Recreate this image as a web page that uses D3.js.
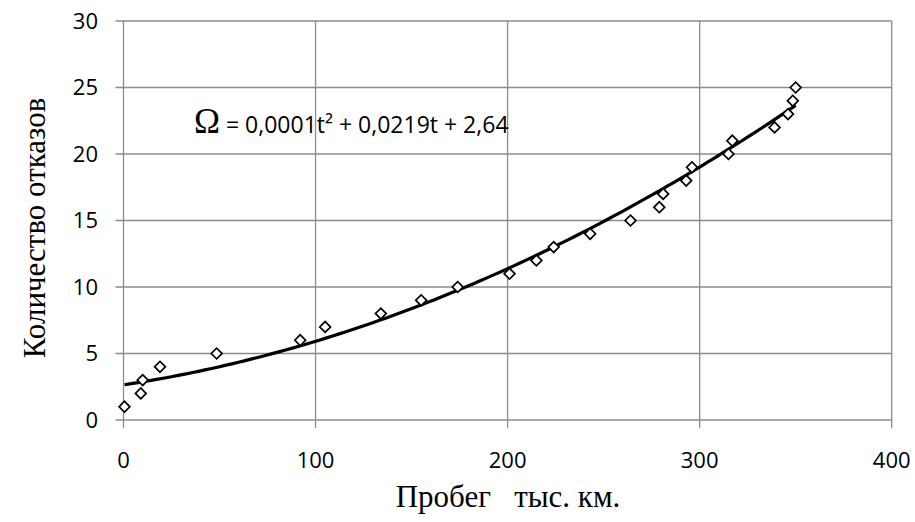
<!DOCTYPE html>
<html>
<head>
<meta charset="utf-8">
<script src="https://cdn.jsdelivr.net/npm/d3@7"></script>
<style>
  html, body { margin: 0; padding: 0; background: #fff; }
  svg { display: block; }
</style>
</head>
<body>
<svg id="chart" width="915" height="522"></svg>
<script>
// Data
const mileage = [0.5, 9, 10, 19, 48.5, 92, 105, 134, 155, 174, 201, 215, 224, 243, 264, 279, 281, 293, 296, 315, 317, 339, 346, 348.5, 350];
const failures = [1, 2, 3, 4, 5, 6, 7, 8, 9, 10, 11, 12, 13, 14, 15, 16, 17, 18, 19, 20, 21, 22, 23, 24, 25];
const xTicks = [0, 100, 200, 300, 400];
const yTicks = [0, 5, 10, 15, 20, 25, 30];
// Trend polynomial coefficients (t^2, t, const) as drawn
const trendCoef = [0.000109, 0.0219, 2.64];
const xTitle = "Пробег   тыс. км.";
const yTitle = "Количество отказов";
const eqSymbol = "Ω";
const eqText = " = 0,0001t² + 0,0219t + 2,64";

const svg = d3.select("#chart");
const pLeft = 123.5, pRight = 891.7, pTop = 21, pBottom = 420;

const x = d3.scaleLinear().domain([0, 400]).range([pLeft, pRight]);
const y = d3.scaleLinear().domain([0, 30]).range([pBottom, pTop]);

const gridColor = "#8c8c8c";

// Grid
const g = svg.append("g");
g.selectAll("line.h").data(yTicks).join("line")
  .attr("x1", pLeft - 8).attr("x2", pRight)
  .attr("y1", d => y(d)).attr("y2", d => y(d))
  .attr("stroke", gridColor).attr("stroke-width", 1.3);
g.selectAll("line.v").data(xTicks).join("line")
  .attr("x1", d => x(d)).attr("x2", d => x(d))
  .attr("y1", pTop).attr("y2", pBottom + 8)
  .attr("stroke", gridColor).attr("stroke-width", 1.3);

// Tick labels
const tickFont = "'Open Sans', Roboto, sans-serif";
svg.append("g").selectAll("text").data(yTicks).join("text")
  .attr("x", 98).attr("y", d => y(d))
  .attr("dy", "0.36em")
  .attr("text-anchor", "end")
  .style("font-family", tickFont).style("font-size", "22px").attr("fill", "#000")
  .text(d => d);
svg.append("g").selectAll("text").data(xTicks).join("text")
  .attr("x", d => x(d)).attr("y", 468)
  .attr("text-anchor", "middle")
  .style("font-family", tickFont).style("font-size", "22px").attr("fill", "#000")
  .text(d => d);

// Trend line
const tMin = d3.min(mileage), tMax = d3.max(mileage);
const tPts = d3.range(0, 101).map(i => tMin + (tMax - tMin) * i / 100);
const poly = t => trendCoef[0] * t * t + trendCoef[1] * t + trendCoef[2];
svg.append("path")
  .datum(tPts)
  .attr("fill", "none").attr("stroke", "#000").attr("stroke-width", 3.2)
  .attr("d", d3.line().x(t => x(t)).y(t => y(poly(t))));

// Markers (diamonds)
const pts = mileage.map((m, i) => ({ m, f: failures[i] }));
const diamond = d3.symbol().type(d3.symbolSquare).size(58);
svg.append("g").selectAll("path").data(pts).join("path")
  .attr("d", diamond)
  .attr("transform", d => `translate(${x(d.m)},${y(d.f)}) rotate(45)`)
  .attr("fill", "#fff").attr("stroke", "#000").attr("stroke-width", 1.7);

// Equation label
const eq = svg.append("text").attr("x", 194).attr("y", 133).attr("fill", "#000");
eq.append("tspan").style("font-family", "'Liberation Serif', serif").style("font-size", "35px").text(eqSymbol);
eq.append("tspan").style("font-family", tickFont).style("font-size", "23px").text(eqText);

// Axis titles
svg.append("text")
  .attr("x", 508).attr("y", 507)
  .attr("text-anchor", "middle")
  .style("font-family", "'Liberation Serif', serif").style("font-size", "31px")
  .style("white-space", "pre").attr("xml:space", "preserve")
  .text(xTitle);
svg.append("text")
  .attr("transform", `translate(45, 228) rotate(-90)`)
  .attr("text-anchor", "middle")
  .style("font-family", "'Liberation Serif', serif").style("font-size", "31px")
  .text(yTitle);
</script>
</body>
</html>
